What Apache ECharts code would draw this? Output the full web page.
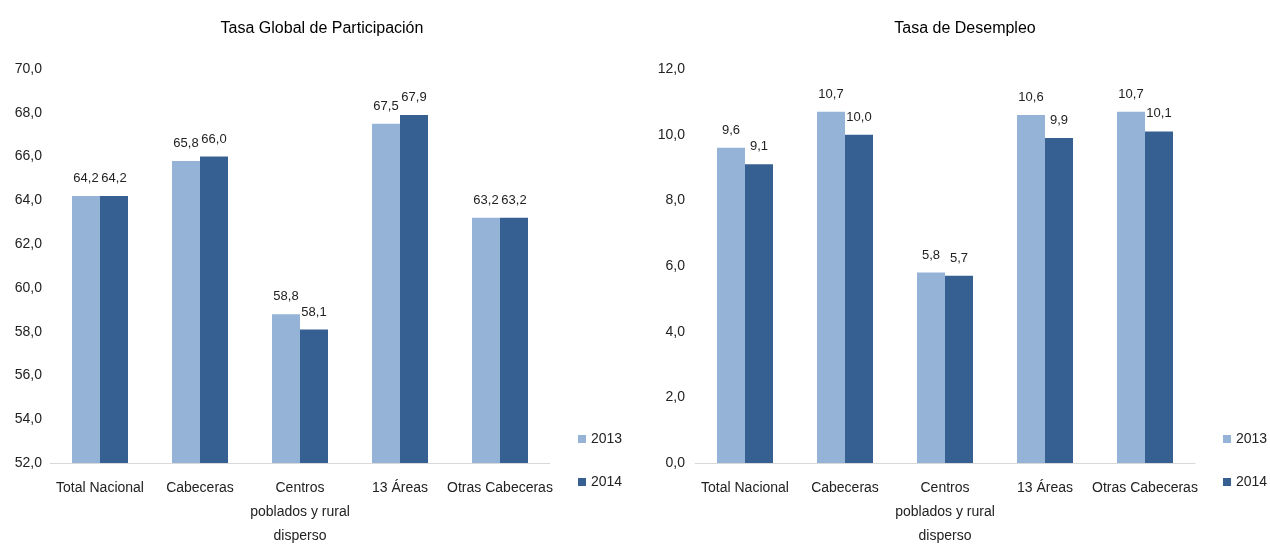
<!DOCTYPE html>
<html>
<head>
<meta charset="utf-8">
<script src="https://cdn.jsdelivr.net/npm/echarts@6/dist/echarts.min.js"></script>
<style>
  html, body { margin: 0; padding: 0; background: #fff; }
  #main { width: 1270px; height: 544px; }
</style>
</head>
<body>
<div id="main"></div>
<script>
// datos
var categorias = ['Total Nacional', 'Cabeceras', 'Centros\npoblados y rural\ndisperso', '13 Áreas', 'Otras Cabeceras'];
var tgp2013 = [64.2, 65.8, 58.8, 67.5, 63.2];
var tgp2014 = [64.2, 66.0, 58.1, 67.9, 63.2];
var td2013 = [9.6, 10.7, 5.8, 10.6, 10.7];
var td2014 = [9.1, 10.0, 5.7, 9.9, 10.1];
var anios = ['2013', '2014'];
var titulos = ['Tasa Global de Participación', 'Tasa de Desempleo'];

var fuente = "'Liberation Sans Narrow', 'Liberation Sans', Arial, sans-serif";
var colores = ['#95b3d7', '#366092'];

function coma(v) {
    return v.toFixed(1).replace('.', ',');
}

var myChart = echarts.init(document.getElementById('main'));

function serie(nombre, datos, idx, color) {
    return {
        name: nombre,
        type: 'bar',
        xAxisIndex: idx,
        yAxisIndex: idx,
        data: datos,
        barWidth: 28,
        barGap: 0,
        itemStyle: { color: color },
        label: {
            show: true,
            position: 'top',
            distance: 11,
            color: '#222',
            fontFamily: fuente,
            fontSize: 13,
            formatter: function (p) { return coma(p.value); }
        }
    };
}

var option = {
    animation: false,
    color: colores,
    textStyle: { fontFamily: fuente },
    title: [
        { text: titulos[0], left: 317, top: 16, textAlign: 'center',
          textStyle: { fontSize: 16, fontWeight: 'normal', color: '#000', fontFamily: fuente } },
        { text: titulos[1], left: 960, top: 16, textAlign: 'center',
          textStyle: { fontSize: 16, fontWeight: 'normal', color: '#000', fontFamily: fuente } }
    ],
    legend: [
        { data: anios, orient: 'vertical', left: 573, top: 427, itemWidth: 8, itemHeight: 8, itemGap: 29,
          icon: 'rect', textStyle: { fontSize: 14, color: '#222', fontFamily: fuente } },
        { data: anios, orient: 'vertical', left: 1218, top: 427, itemWidth: 8, itemHeight: 8, itemGap: 29,
          icon: 'rect', textStyle: { fontSize: 14, color: '#222', fontFamily: fuente } }
    ],
    grid: [
        { left: 50, top: 69, width: 500, height: 394, outerBoundsMode: 'none', containLabel: false },
        { left: 695, top: 69, width: 500, height: 394, outerBoundsMode: 'none', containLabel: false }
    ],
    xAxis: [0, 1].map(function (i) {
        return {
            type: 'category',
            gridIndex: i,
            data: categorias,
            axisLine: { lineStyle: { color: '#d9d9d9', width: 1 } },
            axisTick: { show: false },
            axisLabel: { color: '#222', fontSize: 14, fontFamily: fuente, margin: 13, lineHeight: 24, interval: 0 }
        };
    }),
    yAxis: [
        { type: 'value', gridIndex: 0, min: 52, max: 70, interval: 2,
          axisLine: { show: false }, axisTick: { show: false }, splitLine: { show: false },
          axisLabel: { color: '#222', fontSize: 14, fontFamily: fuente, margin: 8, formatter: coma } },
        { type: 'value', gridIndex: 1, min: 0, max: 12, interval: 2,
          axisLine: { show: false }, axisTick: { show: false }, splitLine: { show: false },
          axisLabel: { color: '#222', fontSize: 14, fontFamily: fuente, margin: 10, formatter: coma } }
    ],
    series: [
        serie(anios[0], tgp2013, 0, colores[0]),
        serie(anios[1], tgp2014, 0, colores[1]),
        serie(anios[0], td2013, 1, colores[0]),
        serie(anios[1], td2014, 1, colores[1])
    ]
};

myChart.setOption(option);
</script>
</body>
</html>
